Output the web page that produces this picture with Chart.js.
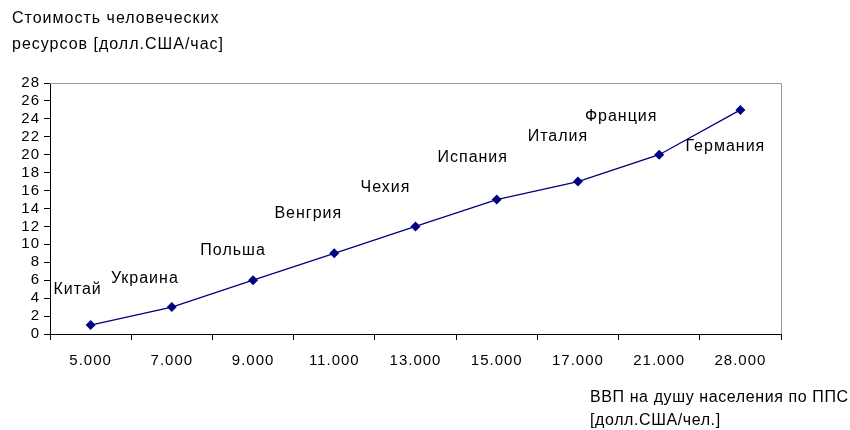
<!DOCTYPE html>
<html>
<head>
<meta charset="utf-8">
<script src="https://cdn.jsdelivr.net/npm/chart.js@4.4.1/dist/chart.umd.min.js"></script>
<style>
    body { margin: 0; background: #fff; }
    #wrap { position: relative; width: 850px; height: 430px; }
    .ttl { position: absolute; font-family: "Liberation Sans", Arial, sans-serif; font-size: 16px; line-height: 26px; color: #000; white-space: nowrap; }
</style>
</head>
<body>
<div id="wrap">
    <canvas id="myChart"></canvas>
    <div class="ttl" style="left:12px; top:5px; letter-spacing:1px;">Стоимость человеческих<br>ресурсов [долл.США/час]</div>
    <div class="ttl" style="left:590px; top:385px; line-height:23px; letter-spacing:0.6px;">ВВП на душу населения по ППС<br>[долл.США/чел.]</div>
</div>
<script>
    var gdpLabels = ["5.000", "7.000", "9.000", "11.000", "13.000", "15.000", "17.000", "21.000", "28.000"];
    var countries = ["Китай", "Украина", "Польша", "Венгрия", "Чехия", "Испания", "Италия", "Франция", "Германия"];
    var costValues = [1, 3, 6, 9, 12, 15, 17, 20, 25];

    // where each country name sits relative to its point
    var labelOffsets = [[-13, -35], [-27, -29], [-20, -30], [-26, -40], [-30, -39], [-24, -42], [-20, -45], [-38, -38], [-15, 37]];

    var fontName = "'Liberation Sans', Arial, sans-serif";

    var extras = {
        id: 'extras',
        beforeDraw: function (chart) {
            chart.ctx.letterSpacing = '1px';
        },
        afterDraw: function (chart) {
            var ctx = chart.ctx;
            var a = chart.chartArea;
            ctx.save();
            ctx.strokeStyle = '#999';
            ctx.lineWidth = 1;
            ctx.beginPath();
            ctx.moveTo(a.left, a.top + 0.5);
            ctx.lineTo(a.right + 0.5, a.top + 0.5);
            ctx.lineTo(a.right + 0.5, a.bottom);
            ctx.stroke();

            var pts = chart.getDatasetMeta(0).data;
            ctx.fillStyle = '#000';
            ctx.font = '16px ' + fontName;
            ctx.letterSpacing = '1px';
            ctx.textAlign = 'center';
            ctx.textBaseline = 'middle';
            for (var i = 0; i < pts.length; i++) {
                ctx.fillText(countries[i], pts[i].x + labelOffsets[i][0], pts[i].y + labelOffsets[i][1]);
            }
            ctx.restore();
        }
    };

    var chart = new Chart(document.getElementById('myChart'), {
        type: 'line',
        data: {
            labels: gdpLabels,
            datasets: [{
                data: costValues,
                borderColor: '#000080',
                borderWidth: 1.3,
                backgroundColor: '#000080',
                pointStyle: 'rectRot',
                pointRadius: 5,
                pointBorderWidth: 0,
                tension: 0
            }]
        },
        options: {
            responsive: true,
            maintainAspectRatio: false,
            animation: false,
            layout: { padding: { left: 0, top: 83, right: 69, bottom: 0 } },
            plugins: { legend: { display: false }, tooltip: { enabled: false } },
            scales: {
                x: {
                    offset: true,
                    grid: { offset: true, drawOnChartArea: false, color: '#000', tickLength: 6 },
                    border: { color: '#000', width: 1 },
                    ticks: { color: '#000', font: { family: fontName, size: 15 }, padding: 12, maxRotation: 0, autoSkip: false },
                    afterFit: function (s) { s.height = 96; }
                },
                y: {
                    min: 0,
                    max: 28,
                    grid: { drawOnChartArea: false, color: '#000', tickLength: 6 },
                    border: { color: '#000', width: 1 },
                    ticks: { stepSize: 2, autoSkip: false, color: '#000', font: { family: fontName, size: 15 }, padding: 4 },
                    afterFit: function (s) { s.width = 50; }
                }
            }
        },
        plugins: [extras]
    });
</script>
</body>
</html>
